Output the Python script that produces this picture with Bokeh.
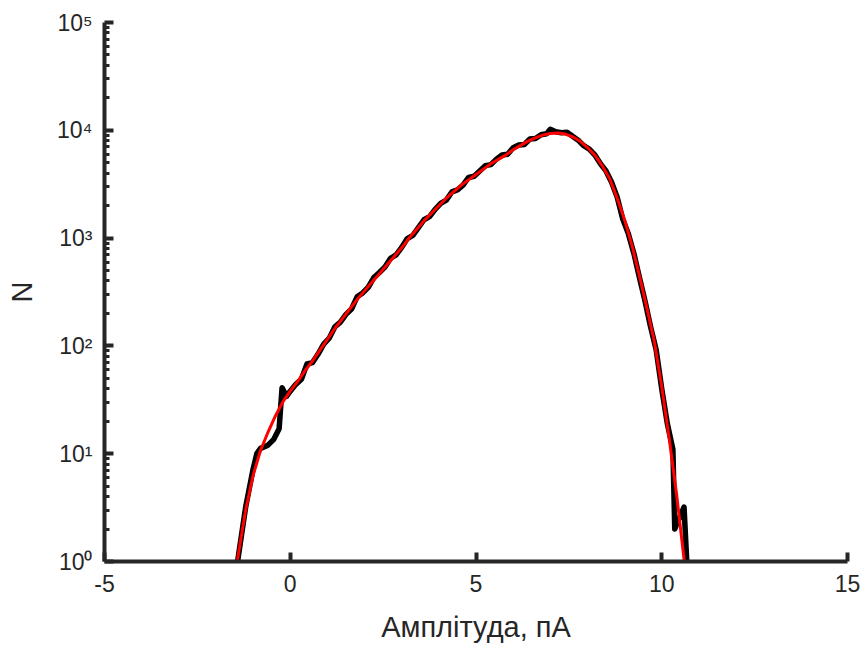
from bokeh.plotting import figure
from bokeh.models import Range1d, FixedTicker
from bokeh.embed import file_html
from bokeh.resources import INLINE

# ---- data ----
x_data = [-1.6, -1.4, -1.2, -1.0, -0.9, -0.8, -0.6, -0.45, -0.3, -0.22, -0.1, 0.0,
          0.15, 0.3, 0.45, 0.6, 0.75, 0.9, 1.05, 1.2, 1.35, 1.5, 1.65, 1.8, 1.95,
          2.1, 2.25, 2.4, 2.55, 2.7, 2.85, 3.0, 3.15, 3.3, 3.45, 3.6, 3.75, 3.9,
          4.05, 4.2, 4.35, 4.5, 4.65, 4.8, 4.95, 5.1, 5.25, 5.4, 5.55, 5.7, 5.85,
          6.0, 6.15, 6.3, 6.45, 6.6, 6.75, 6.9, 7.0, 7.15, 7.3, 7.45, 7.6, 7.75,
          7.9, 8.05, 8.2, 8.35, 8.5, 8.65, 8.8, 8.95, 9.1, 9.25, 9.4, 9.55, 9.7,
          9.85, 10.0, 10.15, 10.3, 10.35, 10.6, 10.75]
n_data = [0.35, 1.1, 3.2, 7.2, 10.0, 11.2, 12.0, 13.5, 17.0, 41, 34, 38,
          44, 49, 68, 70, 84, 104, 118, 150, 166, 196, 220, 285, 310,
          350, 430, 480, 540, 650, 700, 820, 990, 1060, 1250, 1480, 1580, 1850,
          2100, 2250, 2680, 2800, 3100, 3650, 3750, 4200, 4700, 4800, 5400, 5900, 6000,
          6900, 7300, 7400, 8300, 8400, 9100, 9300, 10200, 9700, 9500, 9600, 8800, 8100,
          7200, 6700, 5900, 4900, 4200, 3300, 2400, 1500, 1100, 720, 430, 260, 150,
          92, 40, 19, 11, 2.0, 3.2, 0.3]

x_fit = [-1.6, -1.4, -1.2, -1.0, -0.8, -0.6, -0.4, -0.2, 0.0, 0.2, 0.4, 0.6, 0.8,
         1.0, 1.2, 1.4, 1.6, 1.8, 2.0, 2.2, 2.4, 2.6, 2.8, 3.0, 3.2, 3.4, 3.6, 3.8,
         4.0, 4.2, 4.4, 4.6, 4.8, 5.0, 5.2, 5.4, 5.6, 5.8, 6.0, 6.2, 6.4, 6.6, 6.8,
         7.0, 7.2, 7.4, 7.6, 7.8, 8.0, 8.2, 8.4, 8.6, 8.8, 9.0, 9.2, 9.4, 9.6, 9.8,
         10.0, 10.2, 10.4, 10.6, 10.8]
n_fit = [0.40, 1.15, 3.0, 6.3, 10.7, 15.8, 22.4, 30.2, 38.0, 46.8, 58.9, 72.4, 91.2,
         115, 145, 178, 219, 269, 324, 389, 468, 562, 676, 813, 1000, 1202, 1445, 1698,
         1995, 2344, 2692, 3090, 3467, 3890, 4365, 4898, 5370, 5888, 6607, 7244, 7943, 8511, 9016,
         9333, 9441, 9226, 8710, 7943, 6918, 5888, 4677, 3548, 2344, 1479, 851, 447, 224, 110,
         41.7, 13.8, 4.2, 1.05, 0.25]

x_ticks = [-5, 0, 5, 10, 15]
x_tick_labels = ["-5", "0", "5", "10", "15"]
y_ticks = [1, 10, 100, 1000, 10000, 100000]
y_tick_labels = ["10\u2070", "10\u00b9", "10\u00b2", "10\u00b3", "10\u2074", "10\u2075"]
y_minor = [m * 10 ** k for k in range(5) for m in range(2, 10)]

x_title = "Амплітуда, пА"
y_title = "N"

FONT = "Liberation Sans"
AX = "#262626"

p = figure(width=866, height=650, y_axis_type="log",
           x_range=Range1d(-5, 15), y_range=Range1d(1, 1e5),
           output_backend="svg", toolbar_location=None,
           min_border_left=104, min_border_right=19, min_border_top=22, min_border_bottom=89)
p.outline_line_color = None
p.xgrid.visible = False
p.ygrid.visible = False
p.background_fill_color = "white"
p.border_fill_color = "white"

p.line(x_data, n_data, line_color="black", line_width=5.5, line_join="round", line_cap="round")
p.line(x_fit, n_fit, line_color="#ff0000", line_width=3)

p.xaxis.ticker = FixedTicker(ticks=x_ticks)
p.xaxis.major_label_overrides = {t: l for t, l in zip(x_ticks, x_tick_labels)}
p.yaxis.ticker = FixedTicker(ticks=y_ticks, minor_ticks=y_minor)
p.yaxis.major_label_overrides = {t: l for t, l in zip(y_ticks, y_tick_labels)}

for ax in (p.xaxis, p.yaxis):
    ax.axis_line_color = AX
    ax.axis_line_width = 4
    ax.major_tick_line_color = AX
    ax.major_tick_line_width = 4
    ax.major_tick_in = 9
    ax.major_tick_out = 0
    ax.minor_tick_line_color = AX
    ax.minor_tick_line_width = 3
    ax.minor_tick_in = 5
    ax.minor_tick_out = 0
    ax.major_label_text_font = FONT
    ax.major_label_text_font_size = "23px"
    ax.major_label_text_color = AX
    ax.axis_label_text_font = FONT
    ax.axis_label_text_font_size = "29px"
    ax.axis_label_text_color = AX
    ax.axis_label_text_font_style = "normal"

p.xaxis.minor_tick_line_color = None
p.xaxis.axis_label = x_title
p.yaxis.axis_label = y_title
p.xaxis.major_label_standoff = 13
p.xaxis.axis_label_standoff = 16
p.yaxis.major_label_standoff = 12
p.yaxis.axis_label_standoff = 16

open("out.html", "w").write(file_html(p, INLINE))
